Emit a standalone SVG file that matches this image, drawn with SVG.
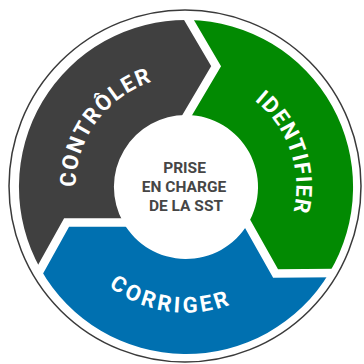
<svg xmlns="http://www.w3.org/2000/svg" width="364" height="364" viewBox="0 0 364 364">
  <style>
    .seg-label { font-family: Roboto, "Liberation Sans", sans-serif; font-weight: bold; font-size: 22px; fill: #ffffff; }
    .center-label { font-family: Roboto, "Liberation Sans", sans-serif; font-weight: bold; font-size: 15.5px; fill: #464646; text-anchor: middle; }
    .gap { fill: none; stroke: #000000; stroke-width: 8.5; stroke-linejoin: miter; stroke-linecap: butt; }
  </style>
  <defs>
    <mask id="gaps" maskUnits="userSpaceOnUse" x="0" y="0" width="364" height="364">
      <rect x="0" y="0" width="364" height="364" fill="#ffffff"/>
      <polyline class="gap" points="186.4,15.7 216.1,66.2 183.2,121.9"/>
      <polyline class="gap" points="335.2,272.9 275.6,273.5 243.8,217.1"/>
      <polyline class="gap" points="37.7,274.4 66.6,222.4 131.3,222.5"/>
    </mask>
    <path id="arc-controler" d="M106.1,263.3 A110.5,110.5 0 0 1 235.0,87.9"/>
    <path id="arc-identifier" d="M168.7,77.9 A110.5,110.5 0 0 1 239.6,283.6"/>
    <path id="arc-corriger" d="M60.1,191.4 A126,126 0 0 0 305.8,225.9"/>
  </defs>
  <rect x="0" y="0" width="364" height="364" fill="#ffffff"/>
  <circle id="outer-ring" cx="185" cy="186" r="176" fill="none" stroke="#3a3a3a" stroke-width="1.5"/>

  <g id="node-controler">
    <path mask="url(#gaps)" fill="#404040" d="M40.6,269.2 A167,167 0 0 1 188.9,20.0 L216.1,66.2 L187.3,115.0 A72,72 0 0 0 123.3,222.5 L66.6,222.4 Z"/>
    <text class="seg-label" letter-spacing="1.6"><textPath href="#arc-controler" startOffset="50%" text-anchor="middle">CONTRÔLER</textPath></text>
  </g>

  <g id="node-identifier">
    <path mask="url(#gaps)" fill="#028A02" d="M188.9,20.0 A167,167 0 0 1 329.2,273.0 L275.6,273.5 L247.7,224.1 A72,72 0 0 0 187.3,115.0 L216.1,66.2 Z"/>
    <text class="seg-label" letter-spacing="1.2"><textPath href="#arc-identifier" startOffset="50%" text-anchor="middle">IDENTIFIER</textPath></text>
  </g>

  <g id="node-corriger">
    <path mask="url(#gaps)" fill="#0070B0" d="M329.2,273.0 A167,167 0 0 1 40.6,269.2 L66.6,222.4 L123.3,222.5 A72,72 0 0 0 247.7,224.1 L275.6,273.5 Z"/>
    <text class="seg-label" letter-spacing="3.2"><textPath href="#arc-corriger" startOffset="50%" text-anchor="middle">CORRIGER</textPath></text>
  </g>

  <g id="node-center">
    <text class="center-label" x="184.5" y="173.3">PRISE</text>
    <text class="center-label" x="184" y="192.3">EN CHARGE</text>
    <text class="center-label" x="186" y="211">DE LA SST</text>
  </g>

  <g id="connectors"/>
</svg>
